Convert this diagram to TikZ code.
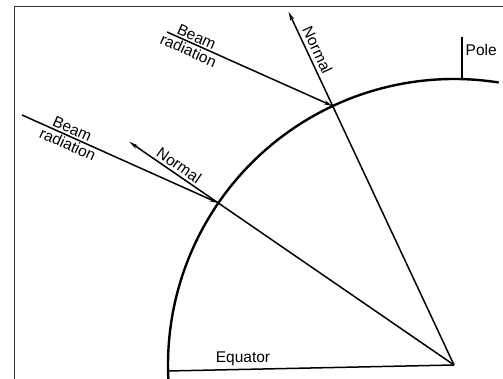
\documentclass[tikz,border=0pt]{standalone}
\usepackage{fontspec}
\setmainfont{Liberation Sans}
\usetikzlibrary{arrows.meta,calc}
\begin{document}
\begin{tikzpicture}[x=1pt,y=1pt,
  ray/.style={line width=1.5pt},
  surf/.style={line width=2.4pt},
  lbl/.style={font=\fontsize{15.5}{17}\selectfont, inner sep=1.5pt},
  tip/.style={-{Stealth[length=9pt,width=4pt]}}]
\useasboundingbox (0,0) rectangle (503,379);
\fill[white] (0,0) rectangle (503,379);
% frame
\draw[line width=1pt, black!80] (14,0) -- (14,372) -- (503,372);
% points
\coordinate (C) at (454,14);
\coordinate (P1) at ($(C)+(115.1:286)$);
\coordinate (P2) at ($(C)+(145.5:286)$);
\coordinate (N1) at ($(C)+(115.1:390)$);
\coordinate (N2) at ($(C)+(145.5:394)$);
\coordinate (B1) at (167,347);
\coordinate (B2) at (22,264);
\coordinate (Q) at ($(C)+(88.4:286)$);
\coordinate (E) at ($(C)+(181.2:286)$);
% earth surface
\draw[surf] ($(C)+(182.8:286)$) arc[start angle=182.8, end angle=81, radius=286];
% pole
\draw[ray] (Q) -- ++(0,42) coordinate (Qt);
\node[lbl, anchor=west] (pole) at (464,329) {Pole};
% equator
\draw[ray] (C) -- node[lbl, pos=0.738, above=1pt] (eq) {Equator} (E);
% normals
\draw[ray, tip] (C) -- node[lbl, pos=0.88, sloped, above=2pt] (n1) {Normal} (N1);
\draw[ray, tip] (C) -- node[lbl, pos=0.862, sloped, above=1pt] (n2) {Normal} (N2);
% beams
\draw[ray, tip] (B1) -- node[lbl, pos=0.16, sloped, above] (b1) {Beam}
                         node[lbl, pos=0.15, sloped, below] (r1) {radiation} (P1);
\draw[ray, tip] (B2) -- node[lbl, pos=0.24, sloped, above] (b2) {Beam}
                         node[lbl, pos=0.25, sloped, below] (r2) {radiation} (P2);
\end{tikzpicture}
\end{document}
